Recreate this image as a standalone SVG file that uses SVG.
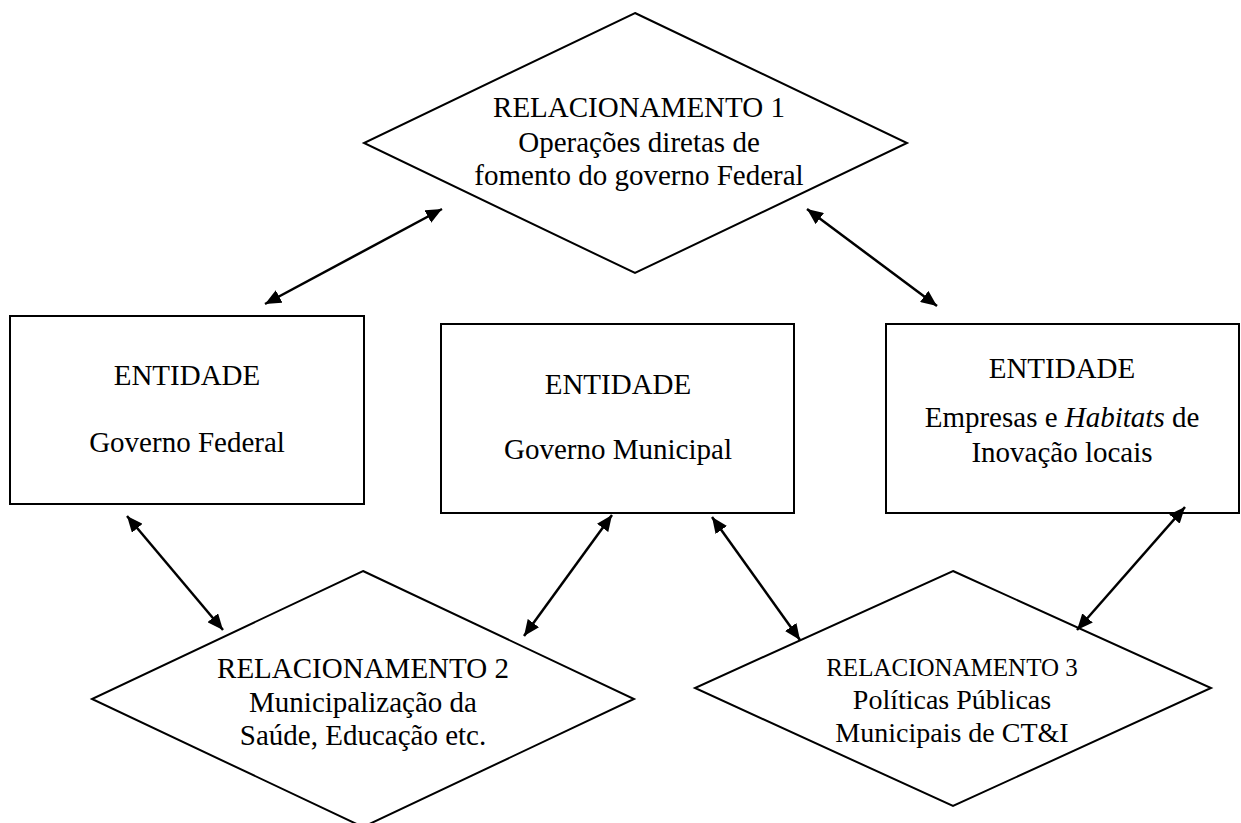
<svg xmlns="http://www.w3.org/2000/svg" width="1241" height="823" viewBox="0 0 1241 823">
<style>
.shape{fill:#fff;stroke:#000;stroke-width:2}
.t{font-family:"Liberation Serif","Times New Roman",serif;font-size:29px;fill:#000;text-anchor:middle}
.s{font-size:25px}
.m{font-size:28px}
.conn line{stroke:#000;stroke-width:2.5;marker-start:url(#ah);marker-end:url(#ah)}
</style>
<defs>
<marker id="ah" markerUnits="userSpaceOnUse" markerWidth="16" markerHeight="14" refX="16" refY="7" orient="auto-start-reverse">
<path d="M0,0 L16,7 L0,14 z" fill="#000"/>
</marker>
</defs>
<rect width="1241" height="823" fill="#fff"/>
<g id="rel1">
<polygon class="shape" points="635,13 907,143 635,273 364,143"/>
<text class="t" x="639" y="117">RELACIONAMENTO 1</text>
<text class="t" x="639" y="152">Operações diretas de</text>
<text class="t" x="639" y="185">fomento do governo Federal</text>
</g>
<g id="ent-federal">
<rect class="shape" x="10" y="316" width="354" height="188"/>
<text class="t" x="187" y="385">ENTIDADE</text>
<text class="t" x="187" y="452">Governo Federal</text>
</g>
<g id="ent-municipal">
<rect class="shape" x="441" y="324" width="353" height="189"/>
<text class="t" x="618" y="394">ENTIDADE</text>
<text class="t" x="618" y="459">Governo Municipal</text>
</g>
<g id="ent-empresas">
<rect class="shape" x="886" y="324" width="353" height="189"/>
<text class="t" x="1062" y="378">ENTIDADE</text>
<text class="t" x="1062" y="427">Empresas e <tspan font-style="italic">Habitats</tspan> de</text>
<text class="t" x="1062" y="462">Inovação locais</text>
</g>
<g id="rel2">
<polygon class="shape" points="363,571 634,699 363,827 92,699"/>
<text class="t" x="363" y="678">RELACIONAMENTO 2</text>
<text class="t" x="363" y="712">Municipalização da</text>
<text class="t" x="363" y="745">Saúde, Educação etc.</text>
</g>
<g id="rel3">
<polygon class="shape" points="953,571 1211,688 953,806 695,688"/>
<text class="t s" x="952" y="676">RELACIONAMENTO 3</text>
<text class="t m" x="952" y="709">Políticas Públicas</text>
<text class="t m" x="952" y="742">Municipais de CT&amp;I</text>
</g>
<g id="connectors" class="conn">
<line x1="265" y1="304" x2="442" y2="209"/>
<line x1="807" y1="209" x2="937" y2="306"/>
<line x1="127" y1="516" x2="223" y2="630"/>
<line x1="612" y1="515" x2="524" y2="636"/>
<line x1="712" y1="517" x2="800" y2="640"/>
<line x1="1185" y1="507" x2="1077" y2="630"/>
</g>
</svg>
